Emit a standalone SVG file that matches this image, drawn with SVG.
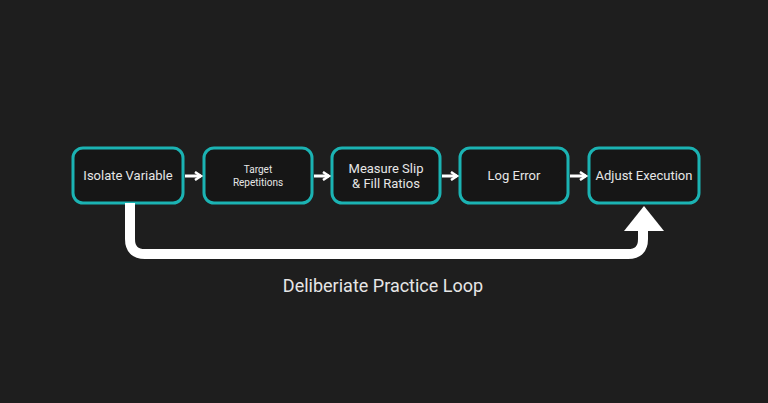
<svg xmlns="http://www.w3.org/2000/svg" width="768" height="403" viewBox="0 0 768 403">
<defs>
<style>
.box{fill:#161616;stroke:#1bb3b3;stroke-width:3}
.t{font-family:Roboto,"Liberation Sans",sans-serif;fill:#e6e6e6;text-anchor:middle}
.c{stroke:#fff;fill:none;stroke-width:3}
</style>
<marker id="ah" markerWidth="10" markerHeight="10" refX="7" refY="5" orient="auto" markerUnits="userSpaceOnUse"><path d="M1,1 L7,5 L1,9" fill="none" stroke="#fff" stroke-width="2.5"/></marker>
</defs>
<rect width="768" height="403" fill="#1e1e1e"/>
<g id="n1"><rect class="box" x="73" y="148" width="110" height="55" rx="10"/><text class="t" x="128" y="180" font-size="13">Isolate Variable</text></g>
<g id="n2"><rect class="box" x="204" y="148" width="108" height="55" rx="10"/><text class="t" x="258" y="173" font-size="10">Target</text><text class="t" x="258" y="186" font-size="10">Repetitions</text></g>
<g id="n3"><rect class="box" x="332" y="148" width="108" height="55" rx="10"/><text class="t" x="386" y="173" font-size="13">Measure Slip</text><text class="t" x="386" y="188" font-size="13">&amp; Fill Ratios</text></g>
<g id="n4"><rect class="box" x="460" y="148" width="108" height="55" rx="10"/><text class="t" x="514" y="180" font-size="13">Log Error</text></g>
<g id="n5"><rect class="box" x="589" y="148" width="110" height="55" rx="10"/><text class="t" x="644" y="180" font-size="13">Adjust Execution</text></g>
<g id="connectors">
<line class="c" x1="185" y1="176" x2="201" y2="176" marker-end="url(#ah)"/>
<line class="c" x1="314" y1="176" x2="329" y2="176" marker-end="url(#ah)"/>
<line class="c" x1="442" y1="176" x2="457" y2="176" marker-end="url(#ah)"/>
<line class="c" x1="570" y1="176" x2="586" y2="176" marker-end="url(#ah)"/>
<path d="M130,203 V239 Q130,254 145,254 H628 Q643,254 643,239 V230" fill="none" stroke="#fff" stroke-width="10"/>
<polygon points="624,231 664,231 644,206" fill="#fff"/>
</g>
<text class="t" x="383" y="292" font-size="18" fill="#d0d0d0">Deliberiate Practice Loop</text>
</svg>
